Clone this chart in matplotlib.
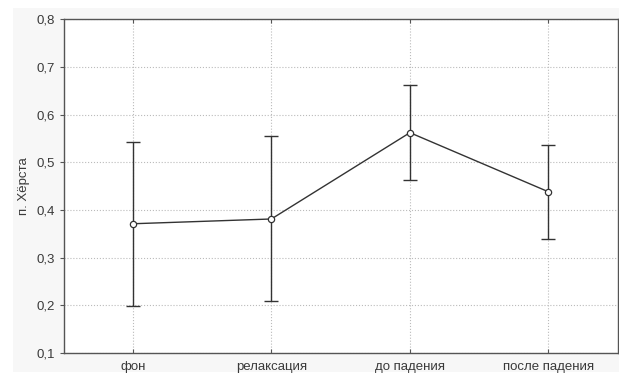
import matplotlib
matplotlib.use("Agg")
import matplotlib.pyplot as plt
from matplotlib.patches import Rectangle

categories = ["фон", "релаксация", "до падения", "после падения"]
means = [0.371, 0.381, 0.562, 0.438]
upper = [0.543, 0.555, 0.661, 0.537]
lower = [0.198, 0.210, 0.463, 0.339]
yticks = [0.1, 0.2, 0.3, 0.4, 0.5, 0.6, 0.7, 0.8]
ylabel = "п. Хёрста"

plt.rcParams['font.family'] = ['Liberation Sans', 'DejaVu Sans']

fig = plt.figure(figsize=(6.19, 3.76), dpi=100, facecolor='white')
bg = Rectangle((13 / 619, 4 / 376), 1 - 13 / 619, 1 - 12 / 376,
               transform=fig.transFigure, facecolor='#f7f7f7',
               edgecolor='none', zorder=-10)
fig.add_artist(bg)
ax = fig.add_axes([0.1026, 0.0612, 0.8954, 0.8878])
ax.set_zorder(1)
ax.set_facecolor('white')

x = list(range(len(categories)))
err_low = [m - l for m, l in zip(means, lower)]
err_up = [u - m for m, u in zip(means, upper)]
ax.errorbar(x, means, yerr=[err_low, err_up], fmt='none', ecolor='#333333',
            elinewidth=1.0, capsize=5, capthick=1.0, zorder=3)
ax.plot(x, means, color='#333333', lw=1.0, marker='o', markersize=4.5,
        markerfacecolor='white', markeredgecolor='#333333', markeredgewidth=0.9, zorder=4)

fs = 9.5
tc = '#3a3a3a'
ax.set_xlim(-0.5, 3.5)
ax.set_ylim(0.1, 0.8)
ax.set_xticks(x)
ax.set_xticklabels(categories, fontsize=fs, color=tc)
ax.set_yticks(yticks)
ax.set_yticklabels([f"{v:.1f}".replace('.', ',') for v in yticks], fontsize=fs, color=tc)
ax.set_ylabel(ylabel, fontsize=fs, color=tc, labelpad=5)

ax.grid(True, color='#bbbbbb', linestyle=':', linewidth=0.8)
ax.set_axisbelow(True)
for s in ax.spines.values():
    s.set_color('#555555')
    s.set_linewidth(1.0)
ax.tick_params(axis='y', direction='out', length=3, color='#555555', pad=3, right=True)
ax.tick_params(axis='x', direction='in', length=3, color='#555555', pad=6, top=True)

fig.savefig("out.png", dpi=100, facecolor='white')
